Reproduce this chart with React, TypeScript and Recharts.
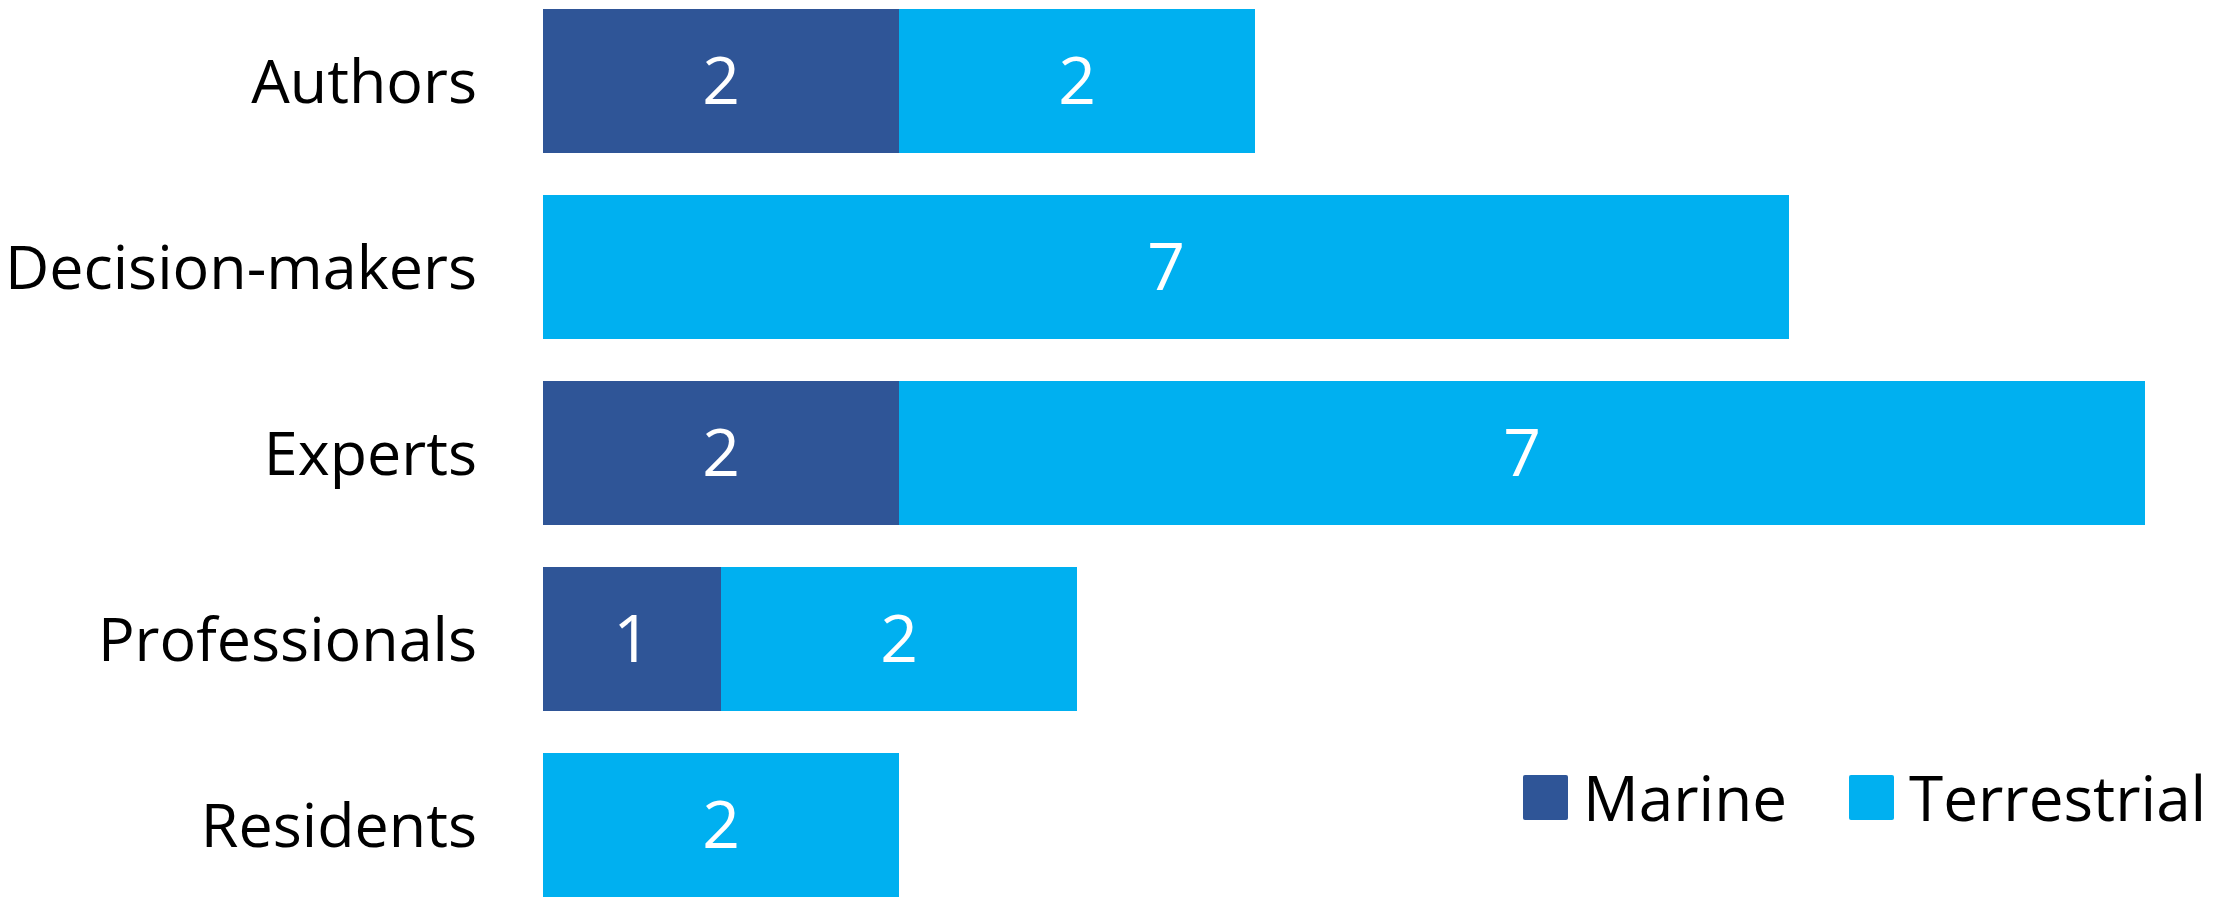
import { BarChart, Bar, XAxis, YAxis, Legend, LabelList } from "recharts";

const categories = ["Authors", "Decision-makers", "Experts", "Professionals", "Residents"];
const marine = [2, 0, 2, 1, 0];
const terrestrial = [2, 7, 7, 2, 2];

const seriesNames = { marine: "Marine", terrestrial: "Terrestrial" };

const MARINE_COLOR = "#2F5597";
const TERRESTRIAL_COLOR = "#00B0F0";
const FONT = "'Open Sans', 'Noto Sans', sans-serif";

const data = categories.map((name, i) => ({
  name,
  marine: marine[i],
  terrestrial: terrestrial[i],
}));

const hideZero = (v: unknown) => (v ? String(v) : "");

const LegendContent = () => (
  <div style={{ display: "flex", alignItems: "center", fontFamily: FONT, fontSize: 62, color: "#000" }}>
    {[
      { label: seriesNames.marine, color: MARINE_COLOR },
      { label: seriesNames.terrestrial, color: TERRESTRIAL_COLOR },
    ].map((item, i) => (
      <div key={item.label} style={{ display: "flex", alignItems: "center", marginRight: i === 0 ? 62 : 0 }}>
        <span
          style={{
            display: "inline-block",
            width: 45,
            height: 45,
            background: item.color,
            borderRadius: 2,
            marginRight: 15,
          }}
        />
        <span style={{ lineHeight: "46px", whiteSpace: "nowrap" }}>{item.label}</span>
      </div>
    ))}
  </div>
);

const App = () => {
  return (
    <div style={{ position: "fixed", left: 0, top: 0, width: 2217, height: 903, overflow: "hidden", background: "#fff" }}>
      <div style={{ position: "absolute", left: 0, top: -12 }}>
        <BarChart
          width={2217}
          height={930}
          data={data}
          layout="vertical"
          margin={{ top: 0, right: 72, bottom: 0, left: 0 }}
          barSize={144}
        >
          <XAxis type="number" domain={[0, 9]} hide />
          <YAxis
            type="category"
            dataKey="name"
            width={543}
            axisLine={false}
            tickLine={false}
            tickSize={0}
            tickMargin={66}
            tick={{ fill: "#000", fontSize: 61, fontFamily: FONT }}
            interval={0}
          />
          {/* middle/center keeps the legend from shrinking the plot area */}
          <Legend
            layout="horizontal"
            verticalAlign="middle"
            align="center"
            content={<LegendContent />}
            wrapperStyle={{ left: 1523, top: 786, width: "auto" }}
          />
          <Bar dataKey="marine" name={seriesNames.marine} stackId="a" fill={MARINE_COLOR} isAnimationActive={false}>
            <LabelList
              dataKey="marine"
              position="center"
              formatter={hideZero}
              fill="#fff"
              style={{ fontSize: 66, fontFamily: FONT }}
            />
          </Bar>
          <Bar
            dataKey="terrestrial"
            name={seriesNames.terrestrial}
            stackId="a"
            fill={TERRESTRIAL_COLOR}
            isAnimationActive={false}
          >
            <LabelList
              dataKey="terrestrial"
              position="center"
              formatter={hideZero}
              fill="#fff"
              style={{ fontSize: 66, fontFamily: FONT }}
            />
          </Bar>
        </BarChart>
      </div>
    </div>
  );
};

export default App;
